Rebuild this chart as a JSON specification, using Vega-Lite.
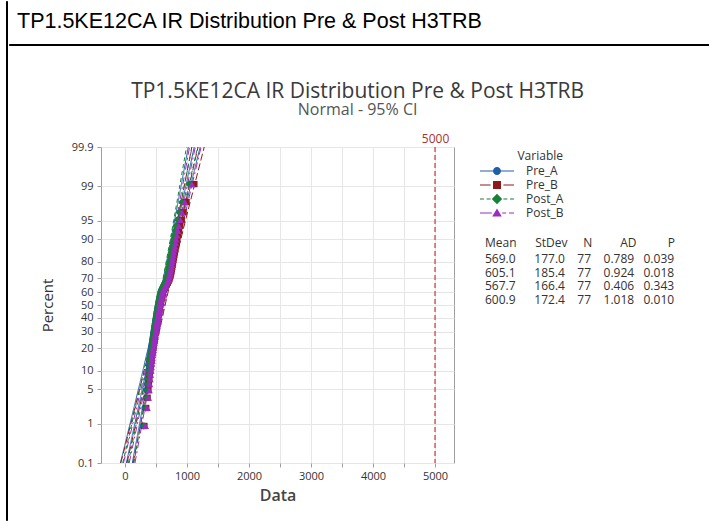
{
  "$schema": "https://vega.github.io/schema/vega-lite/v6.json",
  "background": "white",
  "padding": {"left": 5, "top": 0, "right": 0, "bottom": 0},
  "spacing": 0,
  "title": {
    "text": "TP1.5KE12CA IR Distribution Pre & Post H3TRB",
    "anchor": "start",
    "frame": "group",
    "font": "Liberation Sans",
    "fontSize": 21.5,
    "fontWeight": "normal",
    "color": "#000000",
    "dx": 11,
    "offset": -32
  },
  "config": {
    "font": "Open Sans",
    "view": {"stroke": null},
    "axisLeft": {
      "domain": false, "gridColor": "#e6e6e6", "tickColor": "#9e9e9e", "tickSize": 4,
      "labelFontSize": 11, "labelColor": "#333333", "labelPadding": 4, "labelOverlap": false, "labelFlush": false,
      "titleFontSize": 15, "titleFontWeight": "normal", "titleColor": "#333333", "titlePadding": 16
    },
    "axisBottom": {
      "domain": false, "gridColor": "#e6e6e6", "tickColor": "#9e9e9e", "tickSize": 4,
      "labelFontSize": 11, "labelColor": "#333333", "labelPadding": 3, "labelOverlap": false, "labelFlush": false,
      "titleFontSize": 16, "titleFontWeight": 600, "titleColor": "#444444", "titlePadding": 6
    }
  },
  "datasets": {
    "points": [
      {"Percent": 0.90, "Pre_A": 290, "Pre_B": 313, "Post_A": 306, "Post_B": 329},
      {"Percent": 2.20, "Pre_A": 318, "Pre_B": 342, "Post_A": 332, "Post_B": 357},
      {"Percent": 3.49, "Pre_A": 340, "Pre_B": 365, "Post_A": 353, "Post_B": 378},
      {"Percent": 4.78, "Pre_A": 352, "Pre_B": 378, "Post_A": 364, "Post_B": 390},
      {"Percent": 6.07, "Pre_A": 360, "Pre_B": 386, "Post_A": 371, "Post_B": 398},
      {"Percent": 7.36, "Pre_A": 368, "Pre_B": 394, "Post_A": 379, "Post_B": 405},
      {"Percent": 8.66, "Pre_A": 375, "Pre_B": 402, "Post_A": 386, "Post_B": 412},
      {"Percent": 9.95, "Pre_A": 382, "Pre_B": 409, "Post_A": 392, "Post_B": 419},
      {"Percent": 11.24, "Pre_A": 388, "Pre_B": 415, "Post_A": 398, "Post_B": 425},
      {"Percent": 12.53, "Pre_A": 394, "Pre_B": 422, "Post_A": 403, "Post_B": 431},
      {"Percent": 13.82, "Pre_A": 400, "Pre_B": 428, "Post_A": 409, "Post_B": 437},
      {"Percent": 15.12, "Pre_A": 405, "Pre_B": 433, "Post_A": 414, "Post_B": 441},
      {"Percent": 16.41, "Pre_A": 410, "Pre_B": 438, "Post_A": 418, "Post_B": 446},
      {"Percent": 17.70, "Pre_A": 416, "Pre_B": 445, "Post_A": 424, "Post_B": 452},
      {"Percent": 18.99, "Pre_A": 421, "Pre_B": 450, "Post_A": 429, "Post_B": 457},
      {"Percent": 20.28, "Pre_A": 426, "Pre_B": 455, "Post_A": 433, "Post_B": 462},
      {"Percent": 21.58, "Pre_A": 431, "Pre_B": 460, "Post_A": 438, "Post_B": 467},
      {"Percent": 22.87, "Pre_A": 436, "Pre_B": 466, "Post_A": 443, "Post_B": 472},
      {"Percent": 24.16, "Pre_A": 441, "Pre_B": 471, "Post_A": 448, "Post_B": 477},
      {"Percent": 25.45, "Pre_A": 446, "Pre_B": 476, "Post_A": 452, "Post_B": 481},
      {"Percent": 26.74, "Pre_A": 451, "Pre_B": 481, "Post_A": 457, "Post_B": 486},
      {"Percent": 28.04, "Pre_A": 455, "Pre_B": 485, "Post_A": 461, "Post_B": 490},
      {"Percent": 29.33, "Pre_A": 460, "Pre_B": 491, "Post_A": 465, "Post_B": 495},
      {"Percent": 30.62, "Pre_A": 465, "Pre_B": 496, "Post_A": 470, "Post_B": 500},
      {"Percent": 31.91, "Pre_A": 470, "Pre_B": 501, "Post_A": 475, "Post_B": 505},
      {"Percent": 33.20, "Pre_A": 475, "Pre_B": 506, "Post_A": 480, "Post_B": 510},
      {"Percent": 34.50, "Pre_A": 479, "Pre_B": 511, "Post_A": 483, "Post_B": 514},
      {"Percent": 35.79, "Pre_A": 484, "Pre_B": 516, "Post_A": 488, "Post_B": 518},
      {"Percent": 37.08, "Pre_A": 488, "Pre_B": 520, "Post_A": 492, "Post_B": 522},
      {"Percent": 38.37, "Pre_A": 493, "Pre_B": 525, "Post_A": 496, "Post_B": 527},
      {"Percent": 39.66, "Pre_A": 497, "Pre_B": 529, "Post_A": 500, "Post_B": 531},
      {"Percent": 40.96, "Pre_A": 502, "Pre_B": 535, "Post_A": 505, "Post_B": 536},
      {"Percent": 42.25, "Pre_A": 506, "Pre_B": 539, "Post_A": 509, "Post_B": 540},
      {"Percent": 43.54, "Pre_A": 511, "Pre_B": 544, "Post_A": 513, "Post_B": 545},
      {"Percent": 44.83, "Pre_A": 515, "Pre_B": 548, "Post_A": 517, "Post_B": 549},
      {"Percent": 46.12, "Pre_A": 520, "Pre_B": 553, "Post_A": 522, "Post_B": 553},
      {"Percent": 47.42, "Pre_A": 525, "Pre_B": 559, "Post_A": 527, "Post_B": 558},
      {"Percent": 48.71, "Pre_A": 529, "Pre_B": 563, "Post_A": 530, "Post_B": 562},
      {"Percent": 50.00, "Pre_A": 534, "Pre_B": 568, "Post_A": 535, "Post_B": 567},
      {"Percent": 51.29, "Pre_A": 539, "Pre_B": 573, "Post_A": 540, "Post_B": 572},
      {"Percent": 52.58, "Pre_A": 544, "Pre_B": 579, "Post_A": 544, "Post_B": 577},
      {"Percent": 53.88, "Pre_A": 549, "Pre_B": 584, "Post_A": 549, "Post_B": 582},
      {"Percent": 55.17, "Pre_A": 555, "Pre_B": 590, "Post_A": 555, "Post_B": 588},
      {"Percent": 56.46, "Pre_A": 560, "Pre_B": 595, "Post_A": 559, "Post_B": 592},
      {"Percent": 57.75, "Pre_A": 566, "Pre_B": 602, "Post_A": 565, "Post_B": 598},
      {"Percent": 59.04, "Pre_A": 572, "Pre_B": 608, "Post_A": 571, "Post_B": 604},
      {"Percent": 60.34, "Pre_A": 580, "Pre_B": 616, "Post_A": 578, "Post_B": 612},
      {"Percent": 61.63, "Pre_A": 590, "Pre_B": 627, "Post_A": 588, "Post_B": 622},
      {"Percent": 62.92, "Pre_A": 603, "Pre_B": 640, "Post_A": 600, "Post_B": 634},
      {"Percent": 64.21, "Pre_A": 618, "Pre_B": 656, "Post_A": 614, "Post_B": 649},
      {"Percent": 65.50, "Pre_A": 634, "Pre_B": 673, "Post_A": 629, "Post_B": 665},
      {"Percent": 66.80, "Pre_A": 650, "Pre_B": 690, "Post_A": 644, "Post_B": 680},
      {"Percent": 68.09, "Pre_A": 664, "Pre_B": 704, "Post_A": 657, "Post_B": 694},
      {"Percent": 69.38, "Pre_A": 676, "Pre_B": 717, "Post_A": 668, "Post_B": 705},
      {"Percent": 70.67, "Pre_A": 686, "Pre_B": 727, "Post_A": 678, "Post_B": 715},
      {"Percent": 71.96, "Pre_A": 694, "Pre_B": 736, "Post_A": 685, "Post_B": 723},
      {"Percent": 73.26, "Pre_A": 701, "Pre_B": 743, "Post_A": 692, "Post_B": 730},
      {"Percent": 74.55, "Pre_A": 707, "Pre_B": 749, "Post_A": 698, "Post_B": 736},
      {"Percent": 75.84, "Pre_A": 713, "Pre_B": 756, "Post_A": 703, "Post_B": 741},
      {"Percent": 77.13, "Pre_A": 719, "Pre_B": 762, "Post_A": 709, "Post_B": 747},
      {"Percent": 78.42, "Pre_A": 725, "Pre_B": 768, "Post_A": 715, "Post_B": 753},
      {"Percent": 79.72, "Pre_A": 731, "Pre_B": 774, "Post_A": 720, "Post_B": 759},
      {"Percent": 81.01, "Pre_A": 738, "Pre_B": 782, "Post_A": 727, "Post_B": 766},
      {"Percent": 82.30, "Pre_A": 745, "Pre_B": 789, "Post_A": 733, "Post_B": 773},
      {"Percent": 83.59, "Pre_A": 752, "Pre_B": 796, "Post_A": 740, "Post_B": 779},
      {"Percent": 84.88, "Pre_A": 760, "Pre_B": 805, "Post_A": 747, "Post_B": 787},
      {"Percent": 86.18, "Pre_A": 769, "Pre_B": 814, "Post_A": 756, "Post_B": 796},
      {"Percent": 87.47, "Pre_A": 778, "Pre_B": 824, "Post_A": 764, "Post_B": 805},
      {"Percent": 88.76, "Pre_A": 788, "Pre_B": 834, "Post_A": 774, "Post_B": 815},
      {"Percent": 90.05, "Pre_A": 799, "Pre_B": 846, "Post_A": 784, "Post_B": 825},
      {"Percent": 91.34, "Pre_A": 812, "Pre_B": 859, "Post_A": 796, "Post_B": 838},
      {"Percent": 92.64, "Pre_A": 826, "Pre_B": 874, "Post_A": 809, "Post_B": 852},
      {"Percent": 93.93, "Pre_A": 843, "Pre_B": 892, "Post_A": 825, "Post_B": 868},
      {"Percent": 95.22, "Pre_A": 866, "Pre_B": 916, "Post_A": 847, "Post_B": 891},
      {"Percent": 96.51, "Pre_A": 895, "Pre_B": 946, "Post_A": 874, "Post_B": 919},
      {"Percent": 97.80, "Pre_A": 940, "Pre_B": 993, "Post_A": 917, "Post_B": 963},
      {"Percent": 99.10, "Pre_A": 1060, "Pre_B": 1119, "Post_A": 1029, "Post_B": 1079}
    ],
    "fits": [
      {"Variable": "Pre_A", "Percent": 0.1, "Lower": -74, "Fit": 22, "Upper": 118},
      {"Variable": "Pre_A", "Percent": 1, "Lower": 81, "Fit": 157, "Upper": 234},
      {"Variable": "Pre_A", "Percent": 5, "Lower": 217, "Fit": 278, "Upper": 339},
      {"Variable": "Pre_A", "Percent": 10, "Lower": 289, "Fit": 342, "Upper": 396},
      {"Variable": "Pre_A", "Percent": 30, "Lower": 434, "Fit": 476, "Upper": 518},
      {"Variable": "Pre_A", "Percent": 50, "Lower": 530, "Fit": 569, "Upper": 609},
      {"Variable": "Pre_A", "Percent": 70, "Lower": 620, "Fit": 662, "Upper": 704},
      {"Variable": "Pre_A", "Percent": 90, "Lower": 742, "Fit": 796, "Upper": 849},
      {"Variable": "Pre_A", "Percent": 95, "Lower": 799, "Fit": 860, "Upper": 921},
      {"Variable": "Pre_A", "Percent": 99, "Lower": 904, "Fit": 981, "Upper": 1057},
      {"Variable": "Pre_A", "Percent": 99.9, "Lower": 1021, "Fit": 1116, "Upper": 1212},
      {"Variable": "Pre_B", "Percent": 0.1, "Lower": -68, "Fit": 32, "Upper": 132},
      {"Variable": "Pre_B", "Percent": 1, "Lower": 94, "Fit": 174, "Upper": 254},
      {"Variable": "Pre_B", "Percent": 5, "Lower": 236, "Fit": 300, "Upper": 364},
      {"Variable": "Pre_B", "Percent": 10, "Lower": 312, "Fit": 368, "Upper": 424},
      {"Variable": "Pre_B", "Percent": 30, "Lower": 464, "Fit": 508, "Upper": 552},
      {"Variable": "Pre_B", "Percent": 50, "Lower": 564, "Fit": 605, "Upper": 647},
      {"Variable": "Pre_B", "Percent": 70, "Lower": 658, "Fit": 702, "Upper": 746},
      {"Variable": "Pre_B", "Percent": 90, "Lower": 787, "Fit": 843, "Upper": 899},
      {"Variable": "Pre_B", "Percent": 95, "Lower": 846, "Fit": 910, "Upper": 974},
      {"Variable": "Pre_B", "Percent": 99, "Lower": 956, "Fit": 1036, "Upper": 1117},
      {"Variable": "Pre_B", "Percent": 99.9, "Lower": 1078, "Fit": 1178, "Upper": 1278},
      {"Variable": "Post_A", "Percent": 0.1, "Lower": -36, "Fit": 54, "Upper": 143},
      {"Variable": "Post_A", "Percent": 1, "Lower": 109, "Fit": 181, "Upper": 253},
      {"Variable": "Post_A", "Percent": 5, "Lower": 237, "Fit": 294, "Upper": 351},
      {"Variable": "Post_A", "Percent": 10, "Lower": 304, "Fit": 354, "Upper": 405},
      {"Variable": "Post_A", "Percent": 30, "Lower": 441, "Fit": 480, "Upper": 520},
      {"Variable": "Post_A", "Percent": 50, "Lower": 530, "Fit": 568, "Upper": 605},
      {"Variable": "Post_A", "Percent": 70, "Lower": 615, "Fit": 655, "Upper": 695},
      {"Variable": "Post_A", "Percent": 90, "Lower": 731, "Fit": 781, "Upper": 831},
      {"Variable": "Post_A", "Percent": 95, "Lower": 784, "Fit": 841, "Upper": 899},
      {"Variable": "Post_A", "Percent": 99, "Lower": 883, "Fit": 955, "Upper": 1027},
      {"Variable": "Post_A", "Percent": 99.9, "Lower": 992, "Fit": 1082, "Upper": 1172},
      {"Variable": "Post_B", "Percent": 0.1, "Lower": -25, "Fit": 68, "Upper": 161},
      {"Variable": "Post_B", "Percent": 1, "Lower": 125, "Fit": 200, "Upper": 274},
      {"Variable": "Post_B", "Percent": 5, "Lower": 258, "Fit": 317, "Upper": 377},
      {"Variable": "Post_B", "Percent": 10, "Lower": 328, "Fit": 380, "Upper": 432},
      {"Variable": "Post_B", "Percent": 30, "Lower": 469, "Fit": 511, "Upper": 552},
      {"Variable": "Post_B", "Percent": 50, "Lower": 562, "Fit": 601, "Upper": 639},
      {"Variable": "Post_B", "Percent": 70, "Lower": 650, "Fit": 691, "Upper": 732},
      {"Variable": "Post_B", "Percent": 90, "Lower": 770, "Fit": 822, "Upper": 874},
      {"Variable": "Post_B", "Percent": 95, "Lower": 825, "Fit": 885, "Upper": 944},
      {"Variable": "Post_B", "Percent": 99, "Lower": 928, "Fit": 1002, "Upper": 1076},
      {"Variable": "Post_B", "Percent": 99.9, "Lower": 1041, "Fit": 1134, "Upper": 1227}
    ],
    "stats": [
      {"Variable": "Pre_A", "Mean": 569.0, "StDev": 177.0, "N": 77, "AD": 0.789, "P": 0.039},
      {"Variable": "Pre_B", "Mean": 605.1, "StDev": 185.4, "N": 77, "AD": 0.924, "P": 0.018},
      {"Variable": "Post_A", "Mean": 567.7, "StDev": 166.4, "N": 77, "AD": 0.406, "P": 0.343},
      {"Variable": "Post_B", "Mean": 600.9, "StDev": 172.4, "N": 77, "AD": 1.018, "P": 0.010}
    ],
    "reference": [{"Ref": 5000}]
  },
  "hconcat": [
    {
      "width": 1,
      "height": 519,
      "view": {"fill": "#000000", "stroke": "#000000", "strokeWidth": 1},
      "data": {"values": []},
      "mark": "rule",
      "encoding": {}
    },
    {
      "spacing": 34,
      "resolve": {"scale": {"color": "independent", "shape": "independent", "fill": "independent", "stroke": "independent", "strokeDash": "independent"}},
      "vconcat": [
        {
          "spacing": 0,
          "vconcat": [
            {"width": 700, "height": 42, "data": {"values": []}, "mark": "rule", "encoding": {}},
            {"width": 700, "height": 1, "view": {"fill": "#000000", "stroke": "#000000", "strokeWidth": 1}, "data": {"values": []}, "mark": "rule", "encoding": {}}
          ]
        },
        {
          "spacing": 29,
          "resolve": {"scale": {"color": "independent", "shape": "independent", "fill": "independent", "stroke": "independent", "strokeDash": "independent"}},
          "hconcat": [
            {"width": 1, "height": 1, "data": {"values": []}, "mark": "rule", "encoding": {}},
            {
              "width": 353,
              "height": 316,
              "view": {"stroke": "#9e9e9e", "strokeWidth": 1},
              "title": {
                "text": "TP1.5KE12CA IR Distribution Pre & Post H3TRB",
                "subtitle": "Normal - 95% CI",
                "anchor": "middle",
                "frame": "bounds",
                "font": "Open Sans",
                "fontSize": 21,
                "fontWeight": "normal",
                "color": "#3a3a3a",
                "subtitleFont": "Open Sans",
                "subtitleFontSize": 16,
                "subtitleColor": "#555555",
                "subtitlePadding": 0,
                "offset": 14
              },
              "layer": [
                {
                  "data": {"name": "fits"},
                  "transform": [
                    {"fold": ["Lower", "Fit", "Upper"], "as": ["Line", "Data"]},
                    {"calculate": "quantileNormal(datum.Percent / 100)", "as": "z"}
                  ],
                  "mark": {"type": "line", "strokeWidth": 1, "clip": true},
                  "encoding": {
                    "x": {"field": "Data", "type": "quantitative", "scale": {"domain": [-387, 5306], "nice": false, "zero": false}, "axis": null},
                    "y": {"field": "z", "type": "quantitative", "scale": {"domain": [-3.0902, 3.0902], "nice": false, "zero": false},
                          "axis": {"title": "Percent", "values": [-3.0902, -2.3263, -1.6449, -1.2816, -0.8416, -0.5244, -0.2533, 0, 0.2533, 0.5244, 0.8416, 1.2816, 1.6449, 2.3263, 3.0902], "labelExpr": "format(cumulativeNormal(datum.value) * 100, '.1~f')"}},
                    "stroke": {"field": "Variable", "type": "nominal", "scale": {"domain": ["Pre_A", "Pre_B", "Post_A", "Post_B"], "range": ["#1f5fa6", "#8e1b1b", "#1a7f37", "#9a2dbf"]}, "legend": null},
                    "strokeDash": {"field": "Variable", "type": "nominal", "scale": {"domain": ["Pre_A", "Pre_B", "Post_A", "Post_B"], "range": [[1, 0], [7, 3], [4, 3], [7, 3, 2, 3]]}, "legend": null},
                    "detail": {"field": "Line", "type": "nominal"},
                    "order": {"field": "z", "type": "quantitative"}
                  }
                },
                {
                  "data": {"name": "points"},
                  "transform": [{"calculate": "quantileNormal(datum.Percent / 100)", "as": "z"}],
                  "mark": {"type": "point", "shape": "circle", "filled": true, "size": 42, "opacity": 1, "color": "#1f5fa6"},
                  "encoding": {
                    "x": {"field": "Pre_A", "type": "quantitative", "scale": {"domain": [-387, 5306], "nice": false, "zero": false},
                          "axis": {"orient": "bottom", "title": "Data", "values": [0, 500, 1000, 1500, 2000, 2500, 3000, 3500, 4000, 4500, 5000], "labelExpr": "datum.value % 1000 === 0 ? format(datum.value, 'd') : ''", "grid": true}},
                    "y": {"field": "z", "type": "quantitative", "scale": {"domain": [-3.0902, 3.0902], "nice": false, "zero": false},
                          "axis": {"title": "Percent", "values": [-3.0902, -2.3263, -1.6449, -1.2816, -0.8416, -0.5244, -0.2533, 0, 0.2533, 0.5244, 0.8416, 1.2816, 1.6449, 2.3263, 3.0902], "labelExpr": "format(cumulativeNormal(datum.value) * 100, '.1~f')"}}
                  }
                },
                {
                  "data": {"name": "points"},
                  "transform": [{"calculate": "quantileNormal(datum.Percent / 100)", "as": "z"}],
                  "mark": {"type": "point", "shape": "square", "filled": true, "size": 40, "opacity": 1, "color": "#8e1b1b"},
                  "encoding": {
                    "x": {"field": "Pre_B", "type": "quantitative", "scale": {"domain": [-387, 5306], "nice": false, "zero": false}, "axis": null},
                    "y": {"field": "z", "type": "quantitative", "scale": {"domain": [-3.0902, 3.0902], "nice": false, "zero": false},
                          "axis": {"title": "Percent", "values": [-3.0902, -2.3263, -1.6449, -1.2816, -0.8416, -0.5244, -0.2533, 0, 0.2533, 0.5244, 0.8416, 1.2816, 1.6449, 2.3263, 3.0902], "labelExpr": "format(cumulativeNormal(datum.value) * 100, '.1~f')"}}
                  }
                },
                {
                  "data": {"name": "points"},
                  "transform": [{"calculate": "quantileNormal(datum.Percent / 100)", "as": "z"}],
                  "mark": {"type": "point", "shape": "diamond", "filled": true, "size": 52, "opacity": 1, "color": "#1a7f37"},
                  "encoding": {
                    "x": {"field": "Post_A", "type": "quantitative", "scale": {"domain": [-387, 5306], "nice": false, "zero": false}, "axis": null},
                    "y": {"field": "z", "type": "quantitative", "scale": {"domain": [-3.0902, 3.0902], "nice": false, "zero": false},
                          "axis": {"title": "Percent", "values": [-3.0902, -2.3263, -1.6449, -1.2816, -0.8416, -0.5244, -0.2533, 0, 0.2533, 0.5244, 0.8416, 1.2816, 1.6449, 2.3263, 3.0902], "labelExpr": "format(cumulativeNormal(datum.value) * 100, '.1~f')"}}
                  }
                },
                {
                  "data": {"name": "points"},
                  "transform": [{"calculate": "quantileNormal(datum.Percent / 100)", "as": "z"}],
                  "mark": {"type": "point", "shape": "triangle-up", "filled": true, "size": 52, "opacity": 1, "color": "#9a2dbf"},
                  "encoding": {
                    "x": {"field": "Post_B", "type": "quantitative", "scale": {"domain": [-387, 5306], "nice": false, "zero": false}, "axis": null},
                    "y": {"field": "z", "type": "quantitative", "scale": {"domain": [-3.0902, 3.0902], "nice": false, "zero": false},
                          "axis": {"title": "Percent", "values": [-3.0902, -2.3263, -1.6449, -1.2816, -0.8416, -0.5244, -0.2533, 0, 0.2533, 0.5244, 0.8416, 1.2816, 1.6449, 2.3263, 3.0902], "labelExpr": "format(cumulativeNormal(datum.value) * 100, '.1~f')"}}
                  }
                },
                {
                  "data": {"name": "stats"},
                  "mark": {"type": "point", "filled": true, "opacity": 0},
                  "encoding": {
                    "color": {
                      "field": "Variable", "type": "nominal", "sort": null,
                      "scale": {"range": ["#1f5fa6", "#8e1b1b", "#1a7f37", "#9a2dbf"]},
                      "legend": {
                        "title": "Variable", "orient": "none", "legendX": 390, "legendY": 4, "padding": 0,
                        "symbolType": "M-4.25,-0.15H4.25V0.15H-4.25Z M-1,0A1,1,0,1,1,1,0A1,1,0,1,1,-1,0Z",
                        "symbolSize": 64, "symbolOpacity": 1, "symbolStrokeWidth": 0,
                        "labelOffset": 23, "labelFontSize": 12, "labelColor": "#333333",
                        "titleFontSize": 12, "titleFontWeight": "normal", "titleColor": "#333333", "titlePadding": 2, "titleAnchor": "end",
                        "rowPadding": 2
                      }
                    },
                    "shape": {
                      "field": "Variable", "type": "nominal", "sort": null,
                      "scale": {
                        "range": [
                          "M-4.25,-0.15H4.25V0.15H-4.25Z M-1,0A1,1,0,1,1,1,0A1,1,0,1,1,-1,0Z",
                          "M-4.25,-0.15H-1.6V0.15H-4.25Z M1.6,-0.15H4.25V0.15H1.6Z M-1,-1H1V1H-1Z",
                          "M-4.25,-0.15H-3.25V0.15H-4.25Z M-2.6,-0.15H-1.6V0.15H-2.6Z M1.6,-0.15H2.6V0.15H1.6Z M3.25,-0.15H4.25V0.15H3.25Z M0,-1.3L1.3,0L0,1.3L-1.3,0Z",
                          "M-4.25,-0.15H-1.3V0.15H-4.25Z M1.3,-0.15H2.3V0.15H1.3Z M3,-0.15H4.25V0.15H3Z M0,-1.1L1.2,0.9H-1.2Z"
                        ]
                      },
                      "legend": {
                        "title": "Variable", "orient": "none", "legendX": 390, "legendY": 4, "padding": 0,
                        "symbolSize": 64, "symbolOpacity": 1, "symbolStrokeWidth": 0,
                        "labelOffset": 23, "labelFontSize": 12, "labelColor": "#333333",
                        "titleFontSize": 12, "titleFontWeight": "normal", "titleColor": "#333333", "titlePadding": 2, "titleAnchor": "end",
                        "rowPadding": 2
                      }
                    }
                  }
                },
                {
                  "data": {"name": "stats"},
                  "transform": [
                    {"calculate": "format(datum.Mean, '.1f') + '\u00a0\u00a0\u00a0\u00a0\u00a0\u00a0' + format(datum.StDev, '.1f') + '\u00a0\u00a0\u00a0\u00a0' + datum.N + '\u00a0\u00a0\u00a0\u00a0' + format(datum.AD, '.3f') + '\u00a0\u00a0\u00a0' + format(datum.P, '.3f')", "as": "Row"}
                  ],
                  "mark": {"type": "point", "opacity": 0},
                  "encoding": {
                    "fill": {
                      "field": "Row", "type": "nominal", "sort": null,
                      "legend": {
                        "title": "Mean\u00a0\u00a0\u00a0\u00a0\u00a0\u00a0StDev\u00a0\u00a0\u00a0\u00a0\u00a0N\u00a0\u00a0\u00a0\u00a0\u00a0\u00a0\u00a0\u00a0\u00a0AD\u00a0\u00a0\u00a0\u00a0\u00a0\u00a0\u00a0\u00a0\u00a0\u00a0P",
                        "orient": "none", "legendX": 384, "legendY": 91, "padding": 0,
                        "symbolSize": 1, "symbolStrokeWidth": 0,
                        "labelOffset": -12, "labelFontSize": 12, "labelColor": "#333333", "labelLimit": 400,
                        "titleFontSize": 12, "titleFontWeight": "normal", "titleColor": "#333333", "titleLimit": 400, "titlePadding": 3,
                        "rowPadding": 1.5
                      }
                    }
                  }
                },
                {
                  "data": {"name": "reference"},
                  "mark": {"type": "rule", "color": "#c83c3c", "strokeDash": [5, 3], "strokeWidth": 1.2},
                  "encoding": {
                    "x": {
                      "field": "Ref", "type": "quantitative",
                      "scale": {"domain": [-387, 5306], "nice": false, "zero": false},
                      "axis": {
                        "orient": "top", "values": [5000], "format": "d", "title": null,
                        "domain": false, "ticks": false, "grid": false,
                        "labelColor": "#a83232", "labelFontSize": 12, "labelPadding": 2, "labelFlush": false
                      }
                    }
                  }
                }
              ]
            }
          ]
        }
      ]
    }
  ]
}
